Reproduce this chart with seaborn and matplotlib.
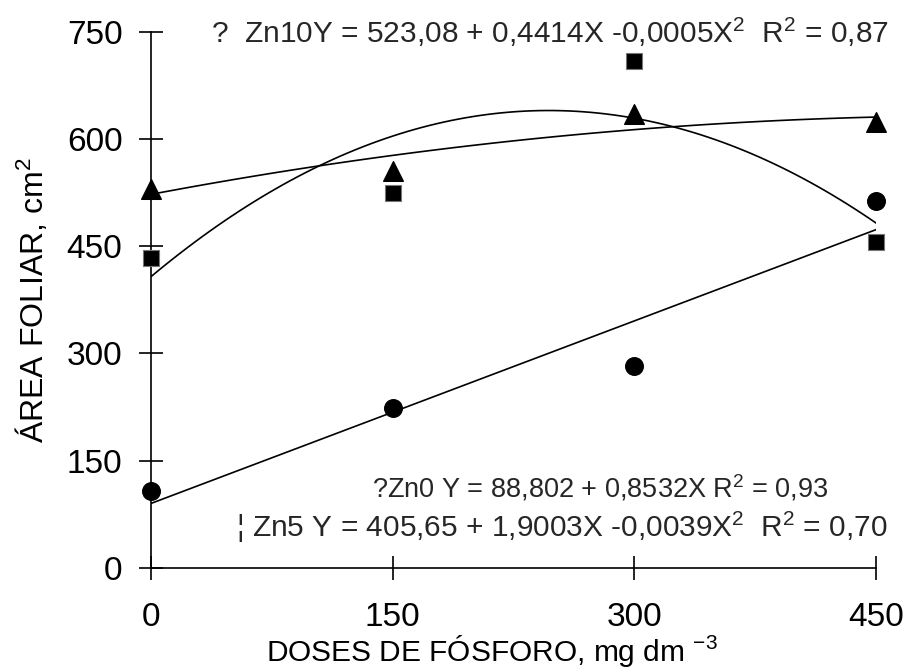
import numpy as np
import pandas as pd
import matplotlib
matplotlib.use("Agg")
import matplotlib.pyplot as plt
import seaborn as sns

# doses de fosforo (mg dm-3)
doses = [0, 150, 300, 450]

# area foliar (cm2)
zn0 = [107, 224, 282, 514]
zn5 = [434, 525, 709, 456]
zn10 = [530, 556, 635, 624]

xticks = [0, 150, 300, 450]
yticks = [0, 150, 300, 450, 600, 750]

eq_zn10 = "?  Zn10Y = 523,08 + 0,4414X -0,0005X$^2$  R$^2$ = 0,87"
eq_zn0 = "?Zn0 Y = 88,802 + 0,8532X R$^2$ = 0,93"
eq_zn5 = "\u00a6 Zn5 Y = 405,65 + 1,9003X -0,0039X$^2$  R$^2$ = 0,70"

sns.set_style("ticks")
plt.rcParams["font.family"] = ["Liberation Sans", "DejaVu Sans"]
plt.rcParams["mathtext.fontset"] = "custom"
plt.rcParams["mathtext.rm"] = "Liberation Sans"
plt.rcParams["mathtext.it"] = "Liberation Sans"

fig = plt.figure(figsize=(9.09, 6.71), dpi=100)
ax = fig.add_axes([0.166, 0.154, 0.798, 0.798])

df = pd.DataFrame({"dose": doses, "zn0": zn0, "zn5": zn5, "zn10": zn10})

line_kw = {"color": "black", "lw": 1.2}
pt_kw = {"color": "black", "alpha": 1, "zorder": 5, "clip_on": False}
sns.regplot(data=df, x="dose", y="zn0", order=1, ci=None, ax=ax, marker="o",
            scatter_kws={**pt_kw, "s": 160}, line_kws=line_kw)
sns.regplot(data=df, x="dose", y="zn5", order=2, ci=None, ax=ax, marker="s",
            scatter_kws={**pt_kw, "s": 140, "edgecolors": "#777777",
                         "linewidths": 0.8}, line_kws=line_kw)
sns.regplot(data=df, x="dose", y="zn10", order=2, ci=None, ax=ax, marker="^",
            scatter_kws={**pt_kw, "s": 200}, line_kws=line_kw)

ax.set_xlim(0, 450)
ax.set_ylim(0, 750)
ax.set_xticks(xticks)
ax.set_yticks(yticks)
for sp in ["top", "right"]:
    ax.spines[sp].set_visible(False)
for sp in ["left", "bottom"]:
    ax.spines[sp].set_linewidth(1.2)
    ax.spines[sp].set_color("black")
ax.tick_params(axis="both", direction="inout", length=17, width=1.2,
               labelsize=24, colors="black")
ax.tick_params(axis="x", pad=16)
ax.tick_params(axis="y", pad=12)

ax.set_xlabel("DOSES DE FÓSFORO, mg dm $^{-3}$", fontsize=21.5, labelpad=0)
ax.xaxis.label.set_x(0.47)
ax.set_ylabel("ÁREA FOLIAR, cm$^2$", fontsize=23, labelpad=12)

ax.text(37, 750, eq_zn10, fontsize=21.5, ha="left", va="center")
ax.text(137, 112, eq_zn0, fontsize=19.5, ha="left", va="center")
ax.text(53, 56, eq_zn5, fontsize=21.5, ha="left", va="center")

for a in [ax.xaxis, ax.yaxis]:
    a.get_label().set_color("black")

fig.savefig("out.png", dpi=100)
